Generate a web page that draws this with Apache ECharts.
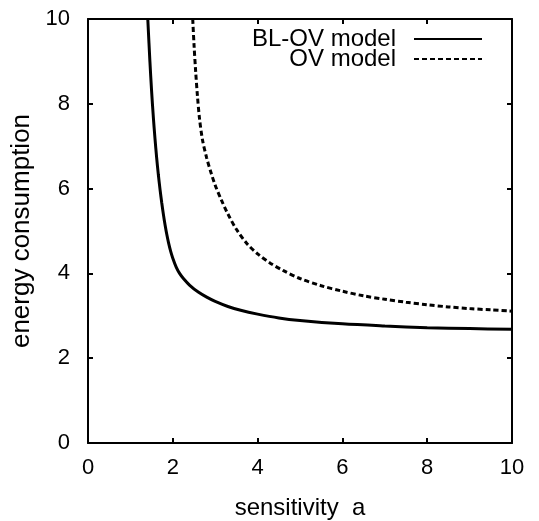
<!DOCTYPE html>
<html>
<head>
<meta charset="utf-8">
<script src="https://cdn.jsdelivr.net/npm/echarts@6/dist/echarts.min.js"></script>
<style>
html,body{margin:0;padding:0;background:#fff;}
#chart{width:539px;height:521px;}
</style>
</head>
<body>
<div id="chart"></div>
<script>
const seriesNames = ['BL-OV model', 'OV model'];
const blovA = [1.41,1.46,1.50,1.54,1.58,1.62,1.66,1.70,1.74,1.78,1.82,1.86,1.90,1.95,2.00,2.08,2.16,2.25,2.40,2.60,2.80,3.00,3.30,3.60,4.00,4.50,5.00,6.00,7.00,8.00,9.00,10.00];
const blovE = [10,9.0,8.3,7.70,7.18,6.72,6.32,5.97,5.66,5.38,5.13,4.91,4.72,4.52,4.36,4.15,4.00,3.88,3.72,3.56,3.44,3.34,3.22,3.13,3.04,2.95,2.89,2.81,2.76,2.72,2.70,2.68];
const ovA = [2.47,2.50,2.54,2.58,2.63,2.70,2.80,2.90,3.00,3.15,3.30,3.50,3.75,4.00,4.30,4.60,5.00,5.50,6.00,6.50,7.00,7.50,8.00,8.50,9.00,9.50,10.00];
const ovE = [10,9.4,8.75,8.2,7.65,7.15,6.72,6.38,6.08,5.72,5.40,5.04,4.70,4.46,4.24,4.07,3.88,3.71,3.58,3.47,3.39,3.32,3.26,3.21,3.17,3.14,3.11];
const xName = 'sensitivity  a';
const yName = 'energy consumption';

const FONT = 'Liberation Sans, Arial, Helvetica, sans-serif';
const pairs = (xs, ys) => xs.map((x, i) => [x, ys[i]]);

const axisCommon = {
  type: 'value', min: 0, max: 10, interval: 2,
  axisLine: { show: true, onZero: false, lineStyle: { color: '#000', width: 2 } },
  axisTick: { show: true, inside: true, length: 5, lineStyle: { color: '#000', width: 2 } },
  splitLine: { show: false }
};

const chart = echarts.init(document.getElementById('chart'), null, { renderer: 'canvas' });
chart.setOption({
  backgroundColor: '#fff',
  animation: false,
  grid: { left: 88, right: 27, top: 19, bottom: 78, outerBoundsMode: 'none' },
  legend: {
    orient: 'vertical',
    align: 'right',
    right: 56,
    top: 27,
    padding: 0,
    itemGap: -4,
    itemWidth: 68,
    itemHeight: 14,
    data: seriesNames,
    itemStyle: { color: 'rgba(0,0,0,0)', borderColor: 'rgba(0,0,0,0)', borderWidth: 0, opacity: 0 },
    textStyle: { fontFamily: FONT, fontSize: 24, color: '#000', lineHeight: 20, padding: [0, 13, 0, 0] }
  },
  xAxis: [
    Object.assign({}, axisCommon, {
      position: 'bottom',
      name: xName, nameLocation: 'middle', nameGap: 53,
      nameTextStyle: { fontFamily: FONT, fontSize: 24, color: '#000' },
      axisLabel: { fontFamily: FONT, fontSize: 22, color: '#000', margin: 14 }
    }),
    Object.assign({}, axisCommon, { position: 'top', axisLabel: { show: false } })
  ],
  yAxis: [
    Object.assign({}, axisCommon, {
      position: 'left',
      name: yName, nameLocation: 'middle', nameGap: 48, nameRotate: 90,
      nameTextStyle: { fontFamily: FONT, fontSize: 26, color: '#000' },
      axisLabel: { fontFamily: FONT, fontSize: 22, color: '#000', margin: 18 }
    }),
    Object.assign({}, axisCommon, { position: 'right', axisLabel: { show: false } })
  ],
  series: [
    {
      name: seriesNames[0], type: 'line', xAxisIndex: 0, yAxisIndex: 0,
      data: pairs(blovA, blovE), symbol: 'none', smooth: 0.3,
      lineStyle: { color: '#000', width: 3, type: 'solid' }, itemStyle: { color: '#000' }
    },
    {
      name: seriesNames[1], type: 'line', xAxisIndex: 0, yAxisIndex: 0,
      data: pairs(ovA, ovE), symbol: 'none', smooth: 0.3,
      lineStyle: { color: '#000', width: 3, type: [5, 3] }, itemStyle: { color: '#000' }
    }
  ]
});
</script>
</body>
</html>
